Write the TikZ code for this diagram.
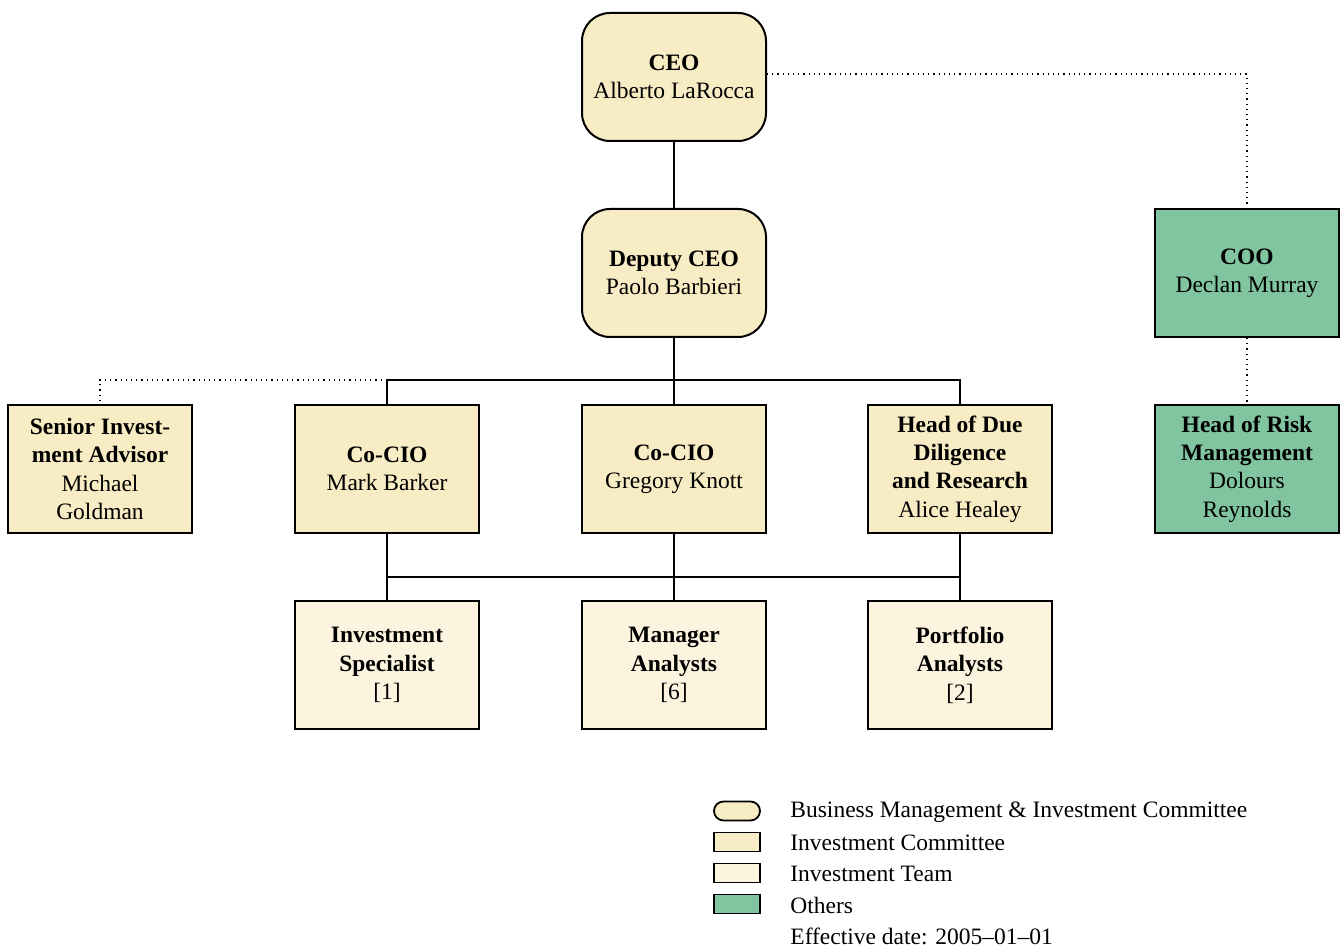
\documentclass[tikz,border=0pt]{standalone}
\usepackage{fontspec}
\setmainfont{Liberation Serif}
\definecolor{ycol}{RGB}{248,236,196}
\definecolor{lcol}{RGB}{252,244,222}
\definecolor{gcol}{RGB}{128,196,160}
\begin{document}
\begin{tikzpicture}[x=0.5pt,y=-0.5pt,
  box/.style={draw=black,line width=1pt,minimum width=92pt,minimum height=64pt,align=center,inner sep=0pt,font=\fontsize{11.75}{14.2}\selectfont},
  rbox/.style={box,fill=ycol,rounded corners=14pt},
  ybox/.style={box,fill=ycol},
  lbox/.style={box,fill=lcol},
  gbox/.style={box,fill=gcol},
  conn/.style={line width=0.9pt},
  dotconn/.style={line width=0.6pt,dotted},
  legtext/.style={anchor=west,inner sep=0pt,font=\fontsize{11.75}{14.2}\selectfont},
  legbox/.style={draw=black,line width=0.9pt,minimum width=23pt,minimum height=9.5pt,inner sep=0pt}
]
\useasboundingbox (0,0) rectangle (1341,947);
% nodes
\node[rbox] (ceo) at (674,77) {\textbf{CEO}\\Alberto LaRocca};
\node[rbox] (dep) at (674,273) {\textbf{Deputy CEO}\\Paolo Barbieri};
\node[gbox] (coo) at (1247,273) {\textbf{COO}\\Declan Murray};
\node[gbox] (risk) at (1247,469) {\textbf{Head of Risk}\\\textbf{Management}\\Dolours\\Reynolds};
\node[ybox] (sia) at (100,469) {\textbf{Senior Invest-}\\\textbf{ment Advisor}\\Michael\\Goldman};
\node[ybox] (cioa) at (387,469) {\textbf{Co-CIO}\\Mark Barker};
\node[ybox] (ciob) at (674,469) {\textbf{Co-CIO}\\Gregory Knott};
\node[ybox] (hdd) at (960,469) {\textbf{Head of Due}\\\textbf{Diligence}\\\textbf{and Research}\\Alice Healey};
\node[lbox] (is) at (387,665) {\textbf{Investment}\\\textbf{Specialist}\\{[1]}};
\node[lbox] (ma) at (674,665) {\textbf{Manager}\\\textbf{Analysts}\\{[6]}};
\node[lbox] (pa) at (960,665) {\textbf{Portfolio}\\\textbf{Analysts}\\{[2]}};
\coordinate (top) at (674,380);
\coordinate (low) at (674,577);
% solid connectors
\draw[conn] (ceo) -- (dep);
\draw[conn] (dep.south) -- (ciob.north);
\draw[conn] (cioa.north) |- (top) -| (hdd.north);
\draw[conn] (cioa.south) -- (is.north);
\draw[conn] (ciob.south) -- (ma.north);
\draw[conn] (hdd.south) -- (pa.north);
\draw[conn] (cioa.south |- low) -- (hdd.south |- low);
% dotted connectors
\draw[dotconn] ([yshift=1.5pt]ceo.east) -| (coo.north);
\draw[dotconn] (coo.south) -- (risk.north);
\draw[dotconn] (cioa.north |- top) -| (sia.north);
% legend
\node[legbox,fill=ycol,rounded corners=4.75pt] (l1) at (737,811) {};
\node[legbox,fill=ycol] (l2) at (737,842) {};
\node[legbox,fill=lcol] (l3) at (737,873) {};
\node[legbox,fill=gcol] (l4) at (737,904) {};
\node[legtext] (t1) at (790,812) {Business Management \& Investment Committee};
\node[legtext] (t2) at (790,843) {Investment Committee};
\node[legtext] (t3) at (790,874) {Investment Team};
\node[legtext] (t4) at (790,905) {Others};
\node[legtext] (t5) at (790,936) {Effective date: 2005--01--01};
\end{tikzpicture}
\end{document}
